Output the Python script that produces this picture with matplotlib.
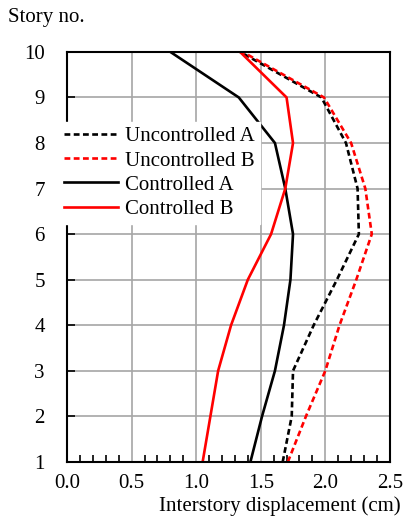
import matplotlib.pyplot as plt
import numpy as np
from matplotlib.ticker import MultipleLocator

plt.rcParams['font.family'] = ['Liberation Serif', 'DejaVu Serif']

stories = [1, 2, 3, 4, 5, 6, 7, 8, 9, 10]
unc_a = [1.67, 1.74, 1.75, 1.91, 2.09, 2.26, 2.25, 2.16, 1.97, 1.34]
unc_b = [1.71, 1.85, 2.00, 2.11, 2.24, 2.36, 2.31, 2.20, 1.99, 1.36]
con_a = [1.42, 1.51, 1.61, 1.68, 1.73, 1.75, 1.69, 1.61, 1.33, 0.80]
con_b = [1.05, 1.11, 1.17, 1.27, 1.40, 1.58, 1.69, 1.75, 1.70, 1.34]

fig = plt.figure(figsize=(4.04, 5.19), dpi=100)
ax = fig.add_axes([0.166, 0.110, 0.799, 0.790])

lw = 1.9
ax.plot(unc_a, stories, color='black', lw=lw, ls=(0, (2.2, 1.3)), label='Uncontrolled A')
ax.plot(unc_b, stories, color='red', lw=lw, ls=(0, (2.2, 1.3)), label='Uncontrolled B')
ax.plot(con_a, stories, color='black', lw=lw, label='Controlled A')
ax.plot(con_b, stories, color='red', lw=lw, label='Controlled B')

ax.set_xlim(0, 2.5)
ax.set_ylim(1, 10)
ax.xaxis.set_major_locator(MultipleLocator(0.5))
ax.xaxis.set_minor_locator(MultipleLocator(0.1))
ax.yaxis.set_major_locator(MultipleLocator(1))
ax.grid(True, color='#a6a6a6', lw=1.2)
ax.set_axisbelow(True)
ax.tick_params(axis='both', which='both', direction='in', labelsize=15, color='black')
ax.tick_params(axis='x', which='major', length=0, pad=9)
ax.tick_params(axis='x', which='minor', length=5, width=1.2)
ax.tick_params(axis='y', which='major', length=6, width=1.2, pad=16)
ax.xaxis.set_major_formatter(plt.FuncFormatter(lambda v, p: '%.1f' % v))
for s in ax.spines.values():
    s.set_linewidth(1.5)

ax.set_xlabel('Interstory displacement (cm)', fontsize=15, ha='right')
ax.xaxis.set_label_coords(1.032, -0.085)
fig.text(0.02, 0.967, 'Story no.', fontsize=15, ha='left', va='center')

leg = ax.legend(loc='upper left', bbox_to_anchor=(-0.025, 0.83), fontsize=15,
                frameon=True, fancybox=False, framealpha=1, edgecolor='white',
                handlelength=2.6, handletextpad=0.3, labelspacing=0.22,
                borderpad=0.25, borderaxespad=0)
leg.set_zorder(10)

fig.savefig('out.png', dpi=100)
